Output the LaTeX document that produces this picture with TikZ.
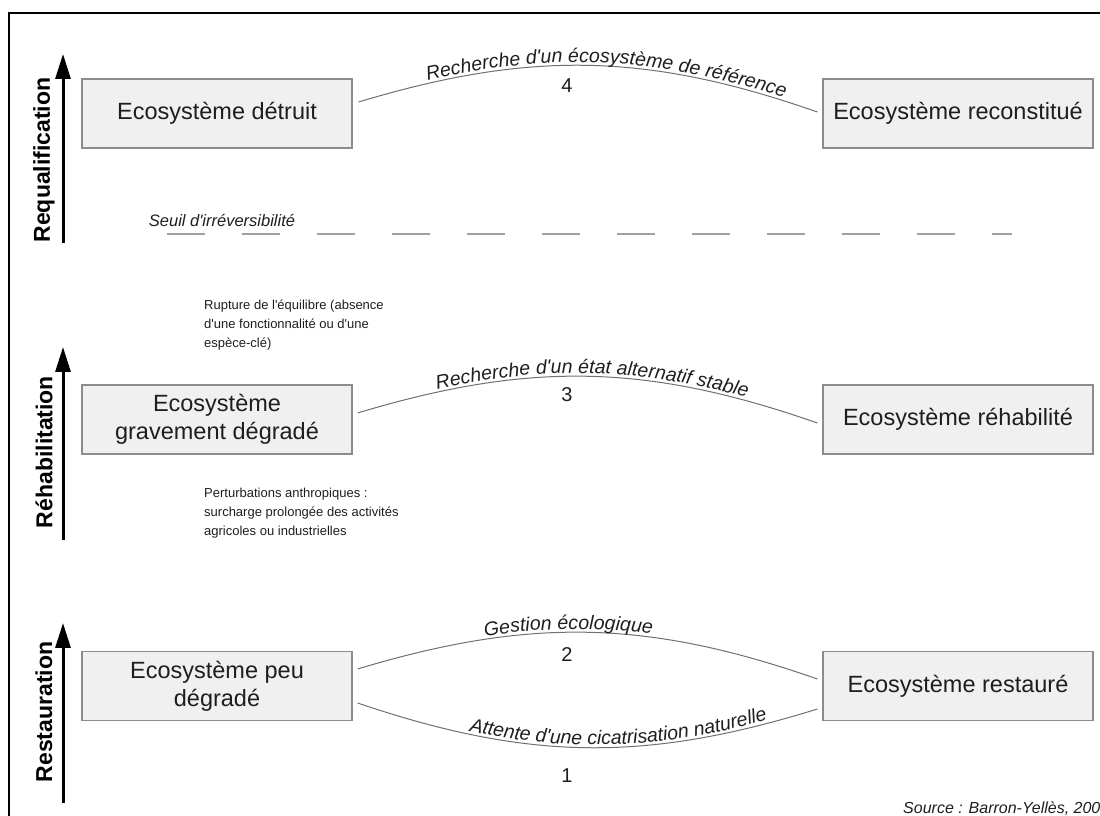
\documentclass[tikz,border=0pt]{standalone}
\usepackage{fontspec}
\setmainfont{Liberation Sans}[Ligatures=TeXOff]
\usetikzlibrary{arrows.meta,decorations.text}
\definecolor{boxfill}{HTML}{F0F0F0}
\definecolor{boxline}{HTML}{8C8C8C}
\definecolor{arcline}{HTML}{707070}
\definecolor{seuilgray}{HTML}{A0A0A0}
\definecolor{inkgray}{HTML}{1E1E1E}
\newcommand{\curvefont}{\itshape\fontsize{19.5}{19.5}\selectfont}

\begin{document}
\begin{tikzpicture}[x=1pt,y=1pt,
  ecobox/.style={draw=boxline,fill=boxfill,line width=1.2pt,minimum width=270pt,
    minimum height=69pt,inner sep=0pt,align=center,text=inkgray,
    font=\fontsize{23.5}{28}\selectfont},
  axisarrow/.style={line width=3pt,-{Triangle[length=25pt,width=15pt]}},
  axislabel/.style={rotate=90,font=\bfseries\fontsize{23}{23}\selectfont},
  passage/.style={draw=arcline,line width=1pt},
  curvetext/.style 2 args={postaction={decorate,decoration={text along path,
    raise=3pt,text color=inkgray,text align={#2},text={|\curvefont|#1}}}},
  stepnum/.style={font=\fontsize{20}{20}\selectfont,text=inkgray},
  note/.style={anchor=north west,align=left,inner sep=0pt,text=inkgray,
    font=\fontsize{13}{19}\selectfont}]
\useasboundingbox (0,0) rectangle (1100,816);
% frame:
\path[draw=black,line width=2pt] (9,-20) rectangle (1120,803);
% axes at the left:
\draw[axisarrow] (63,573) -- (63,762);
\draw[axisarrow] (63,276) -- (63,469);
\draw[axisarrow] (63,13) -- (63,193);
\node[axislabel] (lreq) at (44,656) {Requalification};
\node[axislabel] (lreh) at (44,364) {Réhabilitation};
\node[axislabel] (lres) at (44,104) {Restauration};
% boxes:
\node[ecobox] (dtr) at (217,702.5) {Ecosystème détruit};
\node[ecobox] (rec) at (958,702.5) {Ecosystème reconstitué};
\node[ecobox] (grv) at (217,396.5) {Ecosystème\\gravement dégradé};
\node[ecobox] (reh) at (958,396.5) {Ecosystème réhabilité};
\node[ecobox] (peu) at (217,130) {Ecosystème peu\\dégradé};
\node[ecobox] (res) at (958,130) {Ecosystème restauré};
% threshold:
\coordinate (seuilA) at (167,582);
\coordinate (seuilB) at (1012,582);
\draw[seuilgray,line width=2pt,dash pattern=on 38pt off 37pt] (seuilA) -- (seuilB);
\node[text=inkgray,font=\itshape\fontsize{16.5}{16.5}\selectfont] (seuil) at (222,595)
  {Seuil d'irréversibilité};
% notes:
\node[note] (rupt) at (204,516) {Rupture de l'équilibre (absence\\d'une fonctionnalité ou d'une\\espèce-clé)};
\node[note] (pert) at (204,328) {Perturbations anthropiques :\\surcharge prolongée des activités\\agricoles ou industrielles};
% arcs:
\draw[passage,curvetext={Recherche d'un écosystème de référence}{center,left indent=36pt}]
  ([xshift=6,yshift=11.5]dtr.east) to[bend left=18] ([xshift=-5,yshift=1.5]rec.west);
\draw[passage,curvetext={Recherche d'un état alternatif stable}{center,left indent=8pt}]
  ([xshift=5,yshift=6.5]grv.east) to[bend left=18] ([xshift=-5,yshift=-3.5]reh.west);
\draw[passage,curvetext={Gestion écologique}{center,right indent=40pt}]
  ([xshift=5,yshift=17]peu.east) to[bend left=18] ([xshift=-5,yshift=7]res.west);
\draw[passage,curvetext={Attente d'une cicatrisation naturelle}{center,left indent=64pt}]
  ([xshift=5,yshift=-17]peu.east) to[bend right=18] ([xshift=-5,yshift=-23]res.west);
\node[stepnum] (n4) at (567,730) {4};
\node[stepnum] (n3) at (567,421) {3};
\node[stepnum] (n2) at (567,161) {2};
\node[stepnum] (n1) at (567,40) {1};
% source:
\node[anchor=base west,inner sep=0pt,text=inkgray,font=\itshape\fontsize{16}{16}\selectfont]
  (src) at (903,2) {Source : Barron-Yellès, 2000};
\end{tikzpicture}
\end{document}
